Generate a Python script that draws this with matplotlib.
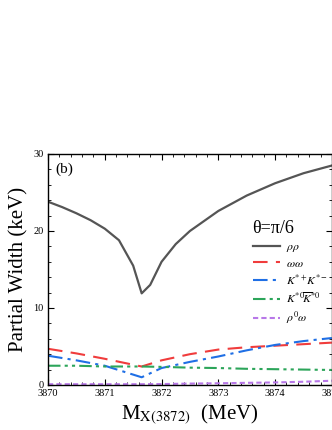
import matplotlib
matplotlib.use("Agg")
import matplotlib.pyplot as plt
from matplotlib.ticker import MultipleLocator

# masses (MeV) and partial widths (keV)
m_rho = [3870.0, 3870.25, 3870.5, 3870.75, 3871.0, 3871.25, 3871.5, 3871.65,
         3871.8, 3872.0, 3872.25, 3872.5, 3873.0, 3873.5, 3874.0, 3874.5, 3875.0]
w_rhorho = [23.8, 23.1, 22.3, 21.4, 20.3, 18.8, 15.5, 11.9,
            13.0, 16.0, 18.3, 20.0, 22.6, 24.6, 26.2, 27.5, 28.5]

m = [3870.0, 3870.5, 3871.0, 3871.65, 3872.0, 3872.5, 3873.0, 3873.5, 3874.0, 3874.5, 3875.0]
w_omega = [4.7, 4.1, 3.4, 2.4, 3.2, 4.0, 4.6, 4.9, 5.1, 5.3, 5.5]
w_kpm = [3.8, 3.2, 2.5, 1.0, 2.2, 3.0, 3.7, 4.5, 5.2, 5.7, 6.1]
w_k0 = [2.5, 2.5, 2.4, 2.4, 2.35, 2.25, 2.2, 2.1, 2.05, 2.0, 1.95]
w_rho0 = [0.1, 0.1, 0.1, 0.1, 0.12, 0.18, 0.22, 0.28, 0.33, 0.42, 0.55]

plt.rcParams["font.family"] = ["Liberation Serif", "DejaVu Serif"]
plt.rcParams["mathtext.fontset"] = "stix"

fig = plt.figure(figsize=(3.32, 4.30), dpi=100)
ax = fig.add_axes([0.1446, 0.1047, 0.855, 0.5372])

ax.plot(m_rho, w_rhorho, color="#555555", lw=1.6, label=r"$\rho\rho$")
ax.plot(m, w_omega, color="#f03c3c", lw=1.5, dashes=(7, 4), label=r"$\omega\omega$")
ax.plot(m, w_kpm, color="#1f6fe5", lw=1.5, dashes=(7, 2.5, 1.5, 2.5), label=r"$K^{*+}\!K^{*-}$")
ax.plot(m, w_k0, color="#2ca55a", lw=1.5, dashes=(6, 2, 1.5, 2, 1.5, 2),
        label=r"$K^{*0}\!\overline{K}^{*0}$")
ax.plot(m, w_rho0, color="#b878e8", lw=1.5, dashes=(2.5, 1.5), label=r"$\rho^0\omega$")

ax.set_xlim(3870, 3875)
ax.set_ylim(0, 30)
ax.xaxis.set_major_locator(MultipleLocator(1))
ax.xaxis.set_minor_locator(MultipleLocator(0.2))
ax.yaxis.set_major_locator(MultipleLocator(10))
ax.yaxis.set_minor_locator(MultipleLocator(2))
ax.tick_params(which="both", direction="in", top=True, right=True, labelsize=7.5, pad=3)
ax.tick_params(which="major", length=4)
ax.tick_params(which="minor", length=2)
for s in ax.spines.values():
    s.set_linewidth(1.0)

ax.set_xlabel(r"M$_{\mathrm{X(3872)}}$  (MeV)", fontsize=15, labelpad=3)
ax.set_ylabel("Partial Width (keV)", fontsize=15, labelpad=4)
ax.text(0.025, 0.965, "(b)", transform=ax.transAxes, fontsize=11, va="top", ha="left")

leg = ax.legend(loc="upper left", bbox_to_anchor=(0.70, 0.74), frameon=False,
                title="θ=π/6", title_fontsize=13, fontsize=8.5, handlelength=2.3,
                handletextpad=0.5, labelspacing=0.32, borderpad=0, alignment="left")

fig.savefig("out.png", dpi=100)
